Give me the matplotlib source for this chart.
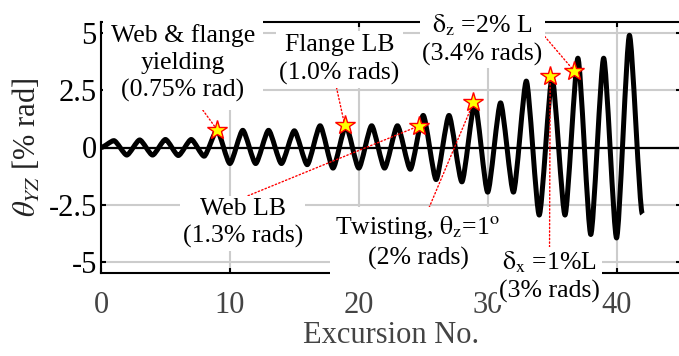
import matplotlib
matplotlib.use('Agg')
import matplotlib.pyplot as plt
from matplotlib.path import Path
from matplotlib.patches import PathPatch

plt.rcParams['font.family'] = ['Liberation Serif', 'DejaVu Serif']
plt.rcParams['mathtext.fontset'] = 'stix'

# rotation at each excursion peak (% rad)
excursion = list(range(43))
theta_yz = [0, 0.3, -0.33, 0.33, -0.33, 0.35, -0.35, 0.35, -0.38,
            0.75, -0.7, 0.75, -0.7, 0.75, -0.7, 0.73, -0.75,
            0.95, -0.9, 0.95, -0.9, 0.95, -0.9, 0.95, -0.95,
            1.4, -1.4, 1.4, -1.5, 1.95, -1.95, 1.95, -1.95,
            2.9, -2.95, 3.05, -2.95, 3.9, -3.8, 3.9, -3.95, 4.9, -2.9]

# damage events
star_x = [9, 18.9, 24.7, 28.9, 34.85, 36.7]
star_y = [0.78, 1.0, 0.95, 1.97, 3.14, 3.35]

xticks = [0, 10, 20, 30, 40]
yticks = [-5, -2.5, 0, 2.5, 5]
yticklabels = ['-5', '-2.5', '0', '2.5', '5']

fig = plt.figure(figsize=(6.79, 3.56), dpi=100)
ax = fig.add_axes([101/679, 83/356, 580/679, 251/356])

ax.set_xlim(0, 45)
ax.set_ylim(-5.48, 5.48)
ax.set_xticks(xticks)
ax.set_yticks(yticks)
ax.set_yticklabels(yticklabels)
ax.grid(True, color='#cccccc', lw=1.5)
ax.set_axisbelow(True)
ax.axhline(0, color='black', lw=1.6, zorder=2)

# rounded half-cycles between successive peaks
verts = [(excursion[0], theta_yz[0])]
codes = [Path.MOVETO]
c = 0.22
for i in range(1, len(excursion)):
    x0, y0 = excursion[i-1], theta_yz[i-1]
    x1, y1 = excursion[i], theta_yz[i]
    dx = x1 - x0
    verts += [(x0 + c*dx, y0), (x1 - c*dx, y1), (x1, y1)]
    codes += [Path.CURVE4] * 3
ax.add_patch(PathPatch(Path(verts, codes), fc='none', ec='black', lw=3.6,
                       capstyle='butt', joinstyle='round', zorder=2.2))

ax.plot(star_x, star_y, '*', ms=15, mfc='yellow', mec='red', mew=1.0,
        zorder=6, clip_on=False)

notes = [
    ('Web & flange\nyielding\n(0.75% rad)', 0, (6.35, 3.68), 0.3, (0.6, 0)),
    ('Flange LB\n(1.0% rads)', 1, (18.5, 3.85), 0.12, (0.47, 0)),
    ('Web LB\n(1.3% rads)', 2, (11.0, -3.3), 0.1, (0.5, 1)),
    ('Twisting, $\\mathrm{\\theta_z}$=1$^\\mathrm{o}$\n(2% rads)', 3,
     (24.6, -4.12), 0.2, (0.55, 1)),
    ('$\\mathrm{\\delta_x}$ =1%L\n(3% rads)', 4, (34.8, -5.62), 0.08, (0.5, 1)),
    ('$\\mathrm{\\delta_z}$ =2% L\n(3.4% rads)', 5, (29.6, 4.72), 0.08, (1, 0.6)),
]
for text, k, pos, pad, rel in notes:
    ax.annotate(text, xy=(star_x[k], star_y[k]), xytext=pos,
                ha='center', va='center', fontsize=18.5, linespacing=1.3,
                bbox=dict(boxstyle='square,pad=%g' % pad, fc='white', ec='none'),
                arrowprops=dict(arrowstyle='-', color='red', lw=1.0, ls=':',
                                relpos=rel, shrinkA=0, shrinkB=0),
                annotation_clip=False, zorder=4)

for s in ax.spines.values():
    s.set_linewidth(1.5)
ax.tick_params(direction='in', length=3.5, width=1.5, top=True, right=True)
ax.tick_params(axis='y', labelsize=22, pad=3, colors='black')
ax.tick_params(axis='x', labelsize=22, pad=13, labelcolor='#444444')

ax.set_xlabel('Excursion No.', fontsize=22, color='#444444', labelpad=1)
ax.set_ylabel('$\\theta_{YZ}$ [% rad]', fontsize=22, color='#222222', labelpad=4)

fig.savefig('out.png', dpi=100)
